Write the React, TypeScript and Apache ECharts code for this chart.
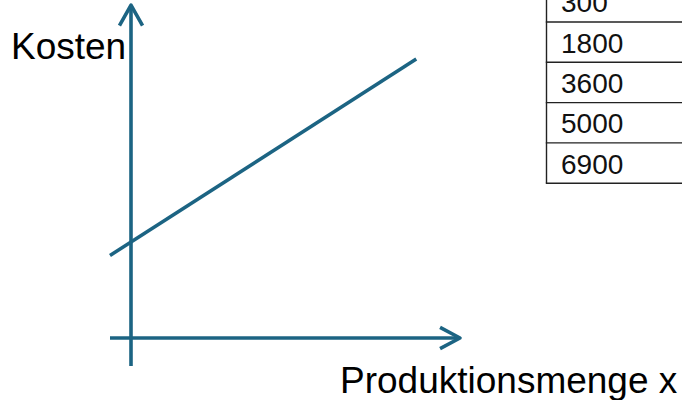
import { useEffect, useRef } from "react";
import * as echarts from "echarts";

// Cost line K(x) (in chart units)
const costX = [-0.6, 8.15];
const costY = [2.58, 8.72];

// Axes (chart units)
const xAxisX = [-0.6, 9.4];
const xAxisY = [0, 0];
const yAxisX = [0, 0];
const yAxisY = [-0.875, 10.4];

// Arrow heads (open chevrons)
const xArrowX = [8.83, 9.4, 8.83];
const xArrowY = [0.33, 0, -0.33];
const yArrowX = [-0.33, 0, 0.33];
const yArrowY = [9.76, 10.4, 9.76];

// Table column (top row cut off by the picture edge)
const tableValues = ["300", "1800", "3600", "5000", "6900"];

const labelY = "Kosten";
const labelX = "Produktionsmenge x";

const COLOR = "#1c6483";
const FONT = "'Liberation Sans', Arial, sans-serif";

const zip = (a: number[], b: number[]) => a.map((v, i) => [v, b[i]]);

export default function App() {
  const ref = useRef<HTMLDivElement>(null);
  useEffect(() => {
    if (!ref.current) return;
    const chart = echarts.init(ref.current, null, { renderer: "svg" });

    const rowTop0 = -18.3;
    const rowH = 40.3;
    const tableLeft = 546.5;
    const tableEls: any[] = [
      {
        type: "line",
        shape: { x1: tableLeft, y1: -5, x2: tableLeft, y2: rowTop0 + rowH * tableValues.length },
        style: { stroke: "#222", lineWidth: 1.4 },
      },
    ];
    tableValues.forEach((v, i) => {
      tableEls.push({
        type: "line",
        shape: {
          x1: tableLeft - 0.7,
          y1: rowTop0 + rowH * (i + 1),
          x2: 700,
          y2: rowTop0 + rowH * (i + 1),
        },
        style: { stroke: "#222", lineWidth: 1.4 },
      });
      tableEls.push({
        type: "text",
        x: 561,
        y: rowTop0 + rowH * i + rowH / 2 + 1,
        style: {
          text: v,
          fontSize: 28,
          fontFamily: FONT,
          fill: "#111",
          verticalAlign: "middle",
          align: "left",
        },
      });
    });

    const lineSeries = (data: number[][], join = "round") => ({
      type: "line",
      data,
      symbol: "none",
      silent: true,
      clip: false,
      lineStyle: { color: COLOR, width: 3.6, cap: "butt", join },
      z: 3,
    });

    chart.setOption({
      animation: false,
      grid: { left: 110, right: 222, top: 5, bottom: 34 },
      xAxis: { type: "value", min: -0.6, max: 9.4, show: false },
      yAxis: { type: "value", min: -0.875, max: 10.406, show: false },
      series: [
        lineSeries(zip(xAxisX, xAxisY)),
        lineSeries(zip(yAxisX, yAxisY)),
        lineSeries(zip(xArrowX, xArrowY)),
        lineSeries(zip(yArrowX, yArrowY)),
        lineSeries(zip(costX, costY)),
      ],
      graphic: [
        {
          type: "text",
          x: 11,
          y: 46,
          style: {
            text: labelY,
            fontSize: 37,
            fontFamily: FONT,
            fill: "#000",
            verticalAlign: "middle",
            align: "left",
          },
        },
        {
          type: "text",
          x: 340,
          y: 380,
          style: {
            text: labelX,
            fontSize: 37,
            fontFamily: FONT,
            fill: "#000",
            verticalAlign: "middle",
            align: "left",
          },
        },
        ...tableEls,
      ],
    });
    return () => chart.dispose();
  }, []);
  return (
    <div
      ref={ref}
      style={{ position: "fixed", left: 0, top: 0, width: 682, height: 400, background: "#fff" }}
    />
  );
}
